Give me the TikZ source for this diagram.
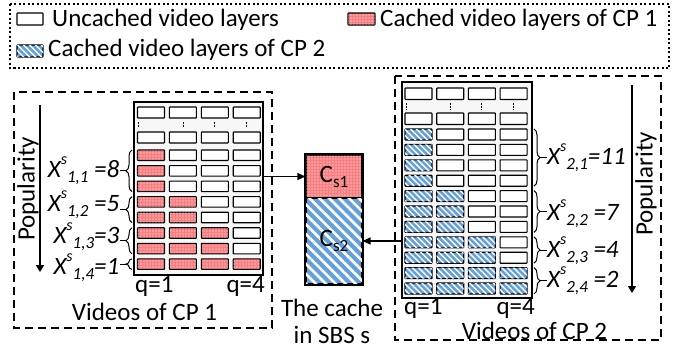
\documentclass[tikz,border=0pt]{standalone}
\usepackage{fontspec}
\setmainfont{Carlito}
\usepackage{tikz}
\usetikzlibrary{arrows.meta, patterns.meta, decorations.pathreplacing}

\definecolor{cpred}{RGB}{250,125,128}
\definecolor{cpblue}{RGB}{100,160,218}

\newcommand{\xsc}[2]{X\raisebox{0.5em}{\fontsize{16}{16}\selectfont s}\raisebox{-0.2em}{\fontsize{17}{17}\selectfont #1}#2}
\newcommand{\csub}[1]{C\raisebox{-0.2em}{\fontsize{17}{17}\selectfont #1}}

\tikzset{
  cell/.style={draw, line width=1.1pt, fill=white, rounded corners=0.6pt},
  cpone/.style={cell, fill=cpred, postaction={pattern={Dots[radius=0.55pt, distance=3pt]}, pattern color=white}},
  cptwo/.style={cell, fill=cpblue, postaction={pattern={Lines[angle=-45, distance=4.2pt, line width=1.4pt]}, pattern color=white}},
  cachetwo/.style={fill=cpblue, postaction={pattern={Lines[angle=-45, distance=7pt, line width=2.6pt]}, pattern color=white}},
  lbl/.style={inner sep=0pt},
  xl/.style={inner sep=0pt, font=\fontsize{25}{30}\selectfont\itshape},
  brc/.style={decorate, decoration={brace, amplitude=6pt}, line width=1pt},
  grp/.style={dash pattern=on 8pt off 5pt, line width=1.1pt},
  vdots/.style={dash pattern=on 1.6pt off 1.6pt, line width=1pt},
  pop/.style={-{Triangle[length=7pt, width=8pt]}, line width=1.1pt},
  feed/.style={-{Triangle[length=8pt, width=7pt]}, line width=1.1pt}
}

\begin{document}
\begin{tikzpicture}[x=1pt, y=-1pt, font=\fontsize{25}{30}\selectfont]
    \useasboundingbox (0,0) rectangle (689,354);

    % legend
    \draw[line width=1.2pt, dash pattern=on 2pt off 2.5pt] (10,4) rectangle (669,68);
    \draw[cell] (17,13) rectangle (43,25);
    \node[lbl, anchor=base west] (lg1) at (52,26.5) {Uncached video layers};
    \draw[cpone] (348,13) rectangle (375,25);
    \node[lbl, anchor=base west] (lg2) at (380,26.5) {Cached video layers of CP 1};
    \draw[cptwo] (17,45) rectangle (43,57);
    \node[lbl, anchor=base west] (lg3) at (48,56.5) {Cached video layers of CP 2};

    % CP 1
    \draw[grp] (14,92) rectangle (272,328);
    \node[draw, line width=1.2pt, fill=gray!6, minimum width=129pt, minimum height=173pt, inner sep=0pt] (vid1) at (198.5,188.5) {};
    \foreach \j in {0,...,3} {
        \draw[cell] (137.5+31.9*\j,107) rectangle ++(27,11);
        \draw[cell] (137.5+31.9*\j,132) rectangle ++(27,11);
    }
    \foreach \x in {138,183,214,246} \draw[vdots] (\x,122) -- (\x,128);
    \foreach \k/\n in {0/1,1/1,2/1,3/2,4/2,5/3,6/3,7/4} {
        \foreach \j in {0,...,3} {
            \ifnum\j<\n \def\sty{cpone}\else\def\sty{cell}\fi
            \draw[\sty] (137.5+31.9*\j,150+15.55*\k) rectangle ++(27,10.5);
        }
    }
    \draw[brc] (132,191.6) -- (132,150);
    \draw[brc] (132,222.7) -- (132,196.65);
    \draw[brc] (132,253.8) -- (132,227.75);
    \draw[brc] (132,269.35) -- (132,258.85);
    \node[xl, anchor=base east] (x11) at (119.5,177) {\xsc{1,1}{ =8}};
    \node[xl, anchor=base east] (x12) at (119.5,211) {\xsc{1,2}{ =5}};
    \node[xl, anchor=base east] (x13) at (119.5,243) {\xsc{1,3}{=3}};
    \node[xl, anchor=base east] (x14) at (119.5,274) {\xsc{1,4}{=1}};
    \draw[line width=1pt] (126,170.8) -- (119.5,170.8);
    \draw[line width=1pt] (126,209.7) -- (119.5,209.7);
    \draw[line width=1pt] (126,240.8) -- (119.5,240.8);
    \draw[line width=1pt] (126,264.1) -- (119.5,264.1);
    \coordinate (p1s) at (40,105);
    \coordinate (p1e) at (40,272);
    \draw[pop] (p1s) -- (p1e);
    \node[lbl, rotate=90] (pop1) at (28,189) {Popularity};
    \node[lbl, anchor=base west] (q11) at (135,292) {q=1};
    \node[lbl, anchor=base east] (q14) at (265,292) {q=4};
    \node[lbl, anchor=base] (cp1) at (144.5,320) {Videos of CP 1};

    % cache
    \node[cpone, rounded corners=0pt, minimum width=56pt, minimum height=43pt, inner sep=0pt] (cs1) at (334,176.5) {};
    \node[draw, line width=1.1pt, cachetwo, minimum width=56pt, minimum height=86pt, inner sep=0pt] (cs2) at (334,241) {};
    \node[lbl] at (cs1) {\csub{s1}};
    \node[lbl] at (cs2) {\csub{s2}};
    \draw[line width=2pt] (cs1.north west) rectangle (cs2.south east);
    \node[lbl, anchor=base] (cache) at (332,316) {The cache};
    \node[lbl, anchor=base] (sbs) at (332,343) {in SBS s};

    % CP 2
    \draw[grp] (395,76) rectangle (661,340);
    \node[draw, line width=1.2pt, fill=gray!6, minimum width=130pt, minimum height=216pt, inner sep=0pt] (vid2) at (467,190) {};
    \foreach \j in {0,...,3} {
        \draw[cell] (405+31.7*\j,88) rectangle ++(27,11.5);
        \draw[cell] (405+31.7*\j,113) rectangle ++(27,11.5);
    }
    \foreach \x in {406,450.5,481.5,513.5} \draw[vdots] (\x,103) -- (\x,110);
    \foreach \k/\n in {0/1,1/1,2/1,3/1,4/2,5/2,6/2,7/3,8/3,9/4,10/4} {
        \foreach \j in {0,...,3} {
            \ifnum\j<\n \def\sty{cptwo}\else\def\sty{cell}\fi
            \draw[\sty] (405+31.7*\j,129+15.4*\k) rectangle ++(27,11);
        }
    }
    \draw[brc] (534,129) -- (534,186.2);
    \draw[brc] (534,190.6) -- (534,232.4);
    \draw[brc] (534,236.8) -- (534,263.2);
    \draw[brc] (534,267.6) -- (534,294);
    \node[xl, anchor=base west] (x21) at (547,164) {\xsc{2,1}{=11}};
    \node[xl, anchor=base west] (x22) at (547,220) {\xsc{2,2}{ =7}};
    \node[xl, anchor=base west] (x23) at (547,257) {\xsc{2,3}{ =4}};
    \node[xl, anchor=base west] (x24) at (547,287) {\xsc{2,4}{ =2}};
    \draw[line width=1pt] (540,157.6) -- (547,157.6);
    \draw[line width=1pt] (540,211.5) -- (547,211.5);
    \draw[line width=1pt] (540,250) -- (547,250);
    \draw[line width=1pt] (540,280.8) -- (547,280.8);
    \coordinate (p2s) at (632,85);
    \coordinate (p2e) at (632,293);
    \draw[pop] (p2s) -- (p2e);
    \node[lbl, rotate=90] (pop2) at (646,184) {Popularity};
    \node[lbl, anchor=base west] (q21) at (404,314) {q=1};
    \node[lbl, anchor=base east] (q24) at (535,314) {q=4};
    \node[lbl, anchor=base] (cp2) at (534.5,339) {Videos of CP 2};

    % feeds into the cache
    \draw[feed] (vid1.east |- cs1.west) -- (cs1.west);
    \draw[feed] (vid2.west |- cs2.east) -- (cs2.east);
\end{tikzpicture}
\end{document}
